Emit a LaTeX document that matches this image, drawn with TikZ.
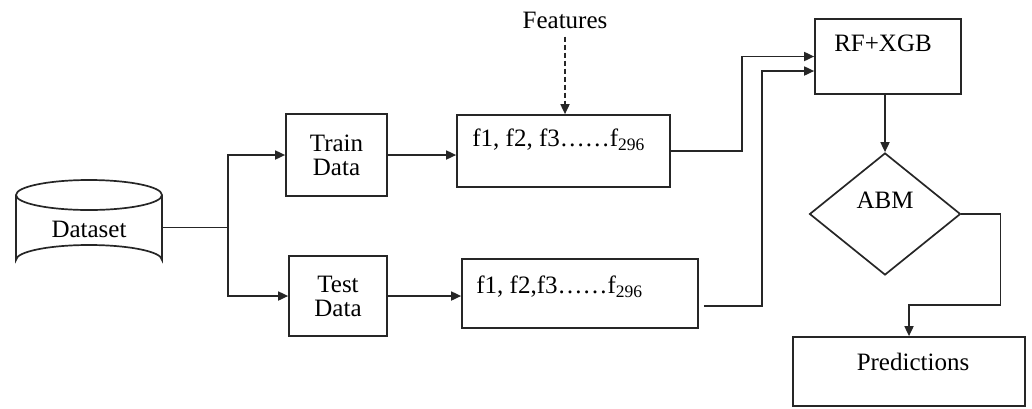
\documentclass[tikz,border=0pt]{standalone}
\usepackage{fontspec}
\setmainfont{Liberation Serif}
\usetikzlibrary{arrows.meta,shapes.geometric}
\begin{document}
\begin{tikzpicture}[x=1pt,y=-1pt,
  every node/.style={font=\fontsize{25}{28}\selectfont},
  line/.style={line width=1.7pt, draw=black!85},
  arr/.style={line, -{Triangle[length=10pt,width=9pt]}},
  box/.style={line, rectangle, inner sep=0pt},
  lbl/.style={inner sep=0pt}
]
\useasboundingbox (0,0) rectangle (1032,408);

% Dataset cylinder
\draw[line] (16,195) -- (16,260) arc[start angle=180,end angle=360,x radius=73,y radius=15] -- (162,195);
\draw[line] (89,195) ellipse[x radius=73,y radius=15];
\node[inner sep=0pt, minimum width=146pt, minimum height=95pt] (dataset) at (89,227.5) {};
\node[lbl] (dtext) at (89,229) {Dataset};

% Train / Test
\node[box, minimum width=101pt, minimum height=82pt, align=center] (train) at (336.5,155)
  {Train\\[-4pt]Data};
\node[box, minimum width=98pt, minimum height=80pt, align=center] (test) at (338,296)
  {Test\\[-4pt]Data};

% Feature boxes
\node[box, minimum width=213pt, minimum height=72pt,
  label={[anchor=west, lbl, xshift=16pt, yshift=11pt]west:f1, f2, f3……f\textsubscript{296}}] (feat1) at (563.5,151) {};
\node[box, minimum width=236pt, minimum height=69pt,
  label={[anchor=west, lbl, xshift=15pt, yshift=6.5pt]west:f1, f2,f3……f\textsubscript{296}}] (feat2) at (580,293.5) {};

\node[lbl] (features) at (565,20) {Features};

% RF+XGB
\node[box, minimum width=146pt, minimum height=75pt,
  label={[lbl, yshift=13.5pt, xshift=-5pt]center:RF+XGB}] (rf) at (888,56.5) {};

% ABM diamond
\node[line, diamond, inner sep=0pt, minimum width=151pt, minimum height=122pt,
  label={[lbl, yshift=14pt]center:ABM}] (abm) at (885,214) {};

% Predictions
\node[box, minimum width=232pt, minimum height=69pt,
  label={[lbl, yshift=9.5pt, xshift=4pt]center:Predictions}] (pred) at (909,371.5) {};

% connectors
\coordinate (j) at (228,227.5);
\draw[line] (dataset.east) -- (j);
\draw[arr] (j) |- (train.west);
\draw[arr] (j) |- (test.west);
\draw[arr] (train.east) -- (train.east -| feat1.west);
\draw[arr] (test.east) -- (test.east -| feat2.west);
\draw[arr] (feat1.east) -- ++(71,0) |- (rf.west);
\draw[arr] ([xshift=5pt,yshift=-12.5pt]feat2.east) -- ++(58,0) |- ([yshift=-14.5pt]rf.west);
\draw[arr, dash pattern=on 5pt off 3pt, shorten <=8pt] (features.south) -- (features.south |- feat1.north);
\draw[arr] (rf.south -| abm.north) -- (abm.north);
\draw[arr] (abm.east) -- ++(39,0) -- ++(0,91) -| (pred.north);
\end{tikzpicture}
\end{document}
